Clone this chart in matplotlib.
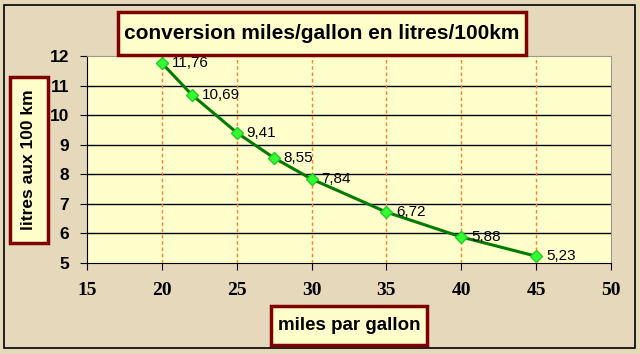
import matplotlib.pyplot as plt
from matplotlib.patches import Rectangle

plt.rcParams['font.family'] = ['Liberation Sans', 'DejaVu Sans']

# miles par gallon -> litres aux 100 km
mpg = [20, 22, 25, 27.5, 30, 35, 40, 45]
litres = [11.76, 10.69, 9.41, 8.55, 7.84, 6.72, 5.88, 5.23]

x_ticks = [15, 20, 25, 30, 35, 40, 45, 50]
y_ticks = [5, 6, 7, 8, 9, 10, 11, 12]

W, H = 640, 354
fig = plt.figure(figsize=(6.4, 3.54), dpi=100)
fig.patch.set_facecolor('#e6d8bb')

ax = fig.add_axes([87 / W, 1 - 263 / H, (611 - 87) / W, (263 - 56) / H])
ax.set_facecolor('#ffffcc')
ax.set_xlim(15, 50)
ax.set_ylim(5, 12)
ax.set_xticks(x_ticks)
ax.set_yticks(y_ticks)

# grid: horizontal solid black, vertical dashed orange
for y in y_ticks[1:-1]:
    ax.axhline(y, color='black', lw=1, zorder=1)
for x in x_ticks[1:-1]:
    ax.axvline(x, color='#ff7f27', lw=1, ls=(0, (2.5, 2)), zorder=1)

ax.plot(mpg, litres, color='#007a00', lw=2.2, marker='D', ms=6,
        mfc='#33ff33', mec='#22cc22', zorder=3)
for x, v in zip(mpg, litres):
    ax.annotate(f'{v:.2f}'.replace('.', ','), (x, v), xytext=(7, 0),
                textcoords='offset points', va='center', ha='left',
                fontsize=11, color='black', zorder=4)

for s in ['top', 'right']:
    ax.spines[s].set_color('#999999')
for s in ['left', 'bottom']:
    ax.spines[s].set_color('black')

ax.tick_params(axis='y', direction='out', length=5, labelsize=12.5, pad=8)
ax.tick_params(axis='x', direction='out', length=5, labelsize=14, pad=9)
for lbl in ax.get_yticklabels():
    lbl.set_fontweight('bold')
for lbl in ax.get_xticklabels():
    lbl.set_fontweight('bold')
    lbl.set_family('Liberation Serif')


def box(x0, y0, x1, y1, text, size, rot=0):
    fig.patches.append(Rectangle((x0 / W, 1 - y1 / H), (x1 - x0) / W, (y1 - y0) / H,
                                 transform=fig.transFigure, facecolor='#ffffcc',
                                 edgecolor='#7f0000', lw=2.5, zorder=5))
    fig.text((x0 + x1) / 2 / W, 1 - (y0 + y1) / 2 / H, text, ha='center', va='center',
             fontsize=size, fontweight='bold', rotation=rot, zorder=6)


box(118, 12, 526, 55, 'conversion miles/gallon en litres/100km', 15)
box(10, 77, 48, 243, 'litres aux 100 km', 12.5, rot=90)
box(271, 306, 427, 345, 'miles par gallon', 13.5)

# outer frame
fig.patches.append(Rectangle((4 / W, 1 - 348 / H), 631 / W, 343 / H,
                             transform=fig.transFigure, fill=False,
                             edgecolor='black', lw=1.2))

fig.savefig('out.png', dpi=100, facecolor=fig.get_facecolor())
